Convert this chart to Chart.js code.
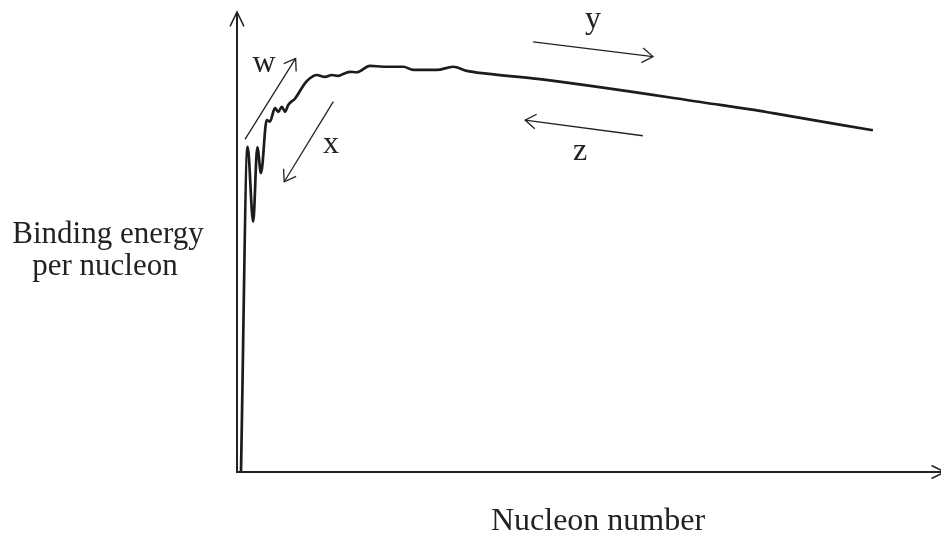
<!DOCTYPE html>
<html>
<head>
<meta charset="utf-8">
<script src="https://cdn.jsdelivr.net/npm/chart.js@4/dist/chart.umd.min.js"></script>
<style>
  body { margin: 0; background: #fff; }
  canvas { display: block; }
</style>
</head>
<body>
<canvas id="beChart" width="941" height="534"></canvas>
<script>
// nucleon number (arbitrary sketch units) and binding energy per nucleon
const nucleonNumber = [1.5, 4.0, 6.1, 7.65, 9.05, 11.2, 12.4, 14.3, 15.6, 16.9, 18.1, 19.3, 21.9, 25.6,
    27.5, 30.0, 33.2, 35.7, 38.1, 40.7, 42.6, 45.1, 50.1, 55.2, 62.7, 66.5, 75.3, 81.5, 86.6, 94.1,
    114.2, 182.1, 197.1, 202.0, 239.7];
const bindingEnergy = [0, 7.07, 5.44, 7.06, 6.50, 7.65, 7.62, 7.91, 7.83, 7.94, 7.83, 7.98, 8.12, 8.45,
    8.56, 8.63, 8.59, 8.63, 8.61, 8.67, 8.70, 8.69, 8.83, 8.81, 8.81, 8.74, 8.74, 8.81, 8.72, 8.66,
    8.54, 7.98, 7.85, 7.80, 7.43];

// process arrows: [fromA, fromE, toA, toE]
const arrowNames = ['w', 'x', 'y', 'z'];
const arrowLines = [
    [3.0, 7.23, 22.1, 8.99],
    [36.3, 8.05, 17.8, 6.31],
    [111.6, 9.35, 156.8, 9.03],
    [153.0, 7.31, 108.6, 7.65]
];
const arrowLabels = [[10.2, 8.70], [35.4, 6.93], [134.2, 9.65], [129.3, 6.78]];

const xTitle = 'Nucleon number';
const yTitle = ['Binding energy', 'per nucleon'];

function arrowHead(ctx, x0, y0, x1, y1, len, ang) {
    const a = Math.atan2(y0 - y1, x0 - x1);
    ctx.beginPath();
    ctx.moveTo(x1 + len * Math.cos(a + ang), y1 + len * Math.sin(a + ang));
    ctx.lineTo(x1, y1);
    ctx.lineTo(x1 + len * Math.cos(a - ang), y1 + len * Math.sin(a - ang));
    ctx.stroke();
}

// draws axes with arrows, the labelled arrows and the titles
const sketchPlugin = {
    id: 'sketch',
    afterDraw(chart) {
        const ctx = chart.ctx;
        const area = chart.chartArea;
        const xs = chart.scales.x, ys = chart.scales.y;
        ctx.save();
        ctx.strokeStyle = '#222';
        ctx.lineCap = 'butt';

        // axes
        ctx.lineWidth = 2;
        ctx.beginPath();
        ctx.moveTo(area.left, area.top + 1);
        ctx.lineTo(area.left, area.bottom);
        ctx.lineTo(area.right + 5, area.bottom);
        ctx.stroke();
        ctx.lineWidth = 1.5;
        arrowHead(ctx, area.left, area.bottom, area.left, area.top, 16, 0.45);
        arrowHead(ctx, area.left, area.bottom, area.right + 5, area.bottom, 15, 0.45);

        // labelled arrows
        ctx.lineWidth = 1.3;
        ctx.fillStyle = '#222';
        ctx.font = '32px "Liberation Serif", "Times New Roman", serif';
        ctx.textAlign = 'center';
        ctx.textBaseline = 'alphabetic';
        arrowLines.forEach((l, i) => {
            const x0 = xs.getPixelForValue(l[0]), y0 = ys.getPixelForValue(l[1]);
            const x1 = xs.getPixelForValue(l[2]), y1 = ys.getPixelForValue(l[3]);
            ctx.beginPath();
            ctx.moveTo(x0, y0);
            ctx.lineTo(x1, y1);
            ctx.stroke();
            arrowHead(ctx, x0, y0, x1, y1, 13, 0.6);
            const lab = arrowLabels[i];
            ctx.fillText(arrowNames[i], xs.getPixelForValue(lab[0]), ys.getPixelForValue(lab[1]));
        });

        // titles
        ctx.font = '31px "Liberation Serif", "Times New Roman", serif';
        ctx.fillText(yTitle[0], 108, 243);
        ctx.fillText(yTitle[1], 105, 275);
        ctx.font = '32px "Liberation Serif", "Times New Roman", serif';
        ctx.fillText(xTitle, 598, 530);
        ctx.restore();
    }
};

const ctx = document.getElementById('beChart').getContext('2d');
const beChart = new Chart(ctx, {
    type: 'line',
    data: {
        datasets: [{
            data: nucleonNumber.map((a, i) => ({ x: a, y: bindingEnergy[i] })),
            borderColor: '#1c1c1c',
            borderWidth: 2.7,
            pointRadius: 0,
            fill: false,
            cubicInterpolationMode: 'monotone'
        }]
    },
    options: {
        responsive: false,
        animation: false,
        devicePixelRatio: 1,
        layout: { padding: { left: 237, right: 1, top: 12, bottom: 62 } },
        plugins: { legend: { display: false }, tooltip: { enabled: false } },
        scales: {
            x: { type: 'linear', min: 0, max: 265, display: false },
            y: { min: 0, max: 10, display: false }
        }
    },
    plugins: [sketchPlugin]
});
</script>
</body>
</html>
